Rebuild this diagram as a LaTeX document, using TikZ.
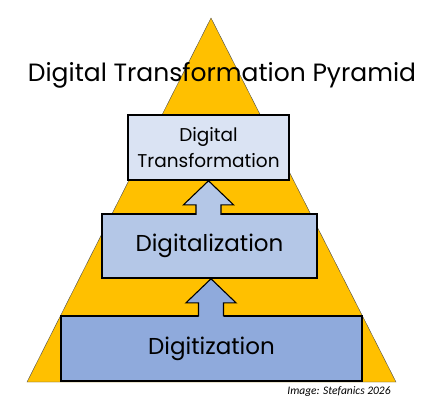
\documentclass[tikz,border=0pt]{standalone}
\usepackage{fontspec}
\setmainfont{Poppins}
\newfontfamily\creditfont{Carlito}
\usepackage{tikz}
\usetikzlibrary{calc}
\definecolor{pyryellow}{HTML}{FFC000}
\definecolor{levelone}{HTML}{8FAADC}
\definecolor{leveltwo}{HTML}{B4C7E7}
\definecolor{levelthree}{HTML}{DAE3F3}
\def\arrowhead{25}
\def\arrowshaft{12.5}
\def\arrowneck{24}
\tikzset{
  level/.style={draw=black, line width=1.6pt, align=center, inner sep=0pt, font=\fontsize{23}{26}\selectfont},
  blockarrow/.style={draw=black, line width=1.1pt, line join=miter}
}

\begin{document}
\begin{tikzpicture}[x=1pt,y=-1pt]
\useasboundingbox (0,0) rectangle (442,402);

% PYRAMID
\coordinate (apex) at (211,18);
\coordinate (baseleft) at (27,382);
\coordinate (baseright) at (396,382);
\draw[fill=pyryellow, draw=black!70, thin] (apex) -- (baseright) -- (baseleft) -- cycle;

% TITLE
\node[font=\fontsize{25}{28}\selectfont] (title) at (222,75) {Digital Transformation Pyramid};

% LEVELS
\node[level, fill=levelone, minimum width=301pt, minimum height=65pt] (digitization) at (211.5,348.5) {Digitization};
\node[level, fill=leveltwo, minimum width=215pt, minimum height=64pt] (digitalization) at (209.5,246) {Digitalization};
\node[level, fill=levelthree, minimum width=161pt, minimum height=65pt, font=\fontsize{18.5}{26}\selectfont] (transformation) at (208.5,147.5) {Digital\\Transformation};

% ARROW digitalization -> transformation
\coordinate (uptip) at (transformation.south);
\fill[leveltwo] ($(uptip)+(-\arrowshaft,40)$) -- ($(uptip)+(-\arrowshaft,\arrowneck)$) -- ($(uptip)+(-\arrowhead,\arrowneck)$) -- (uptip)
  -- ($(uptip)+(\arrowhead,\arrowneck)$) -- ($(uptip)+(\arrowshaft,\arrowneck)$) -- ($(uptip)+(\arrowshaft,40)$) -- cycle;
\draw[blockarrow] ($(uptip)+(-\arrowshaft,34)$) -- ($(uptip)+(-\arrowshaft,\arrowneck)$) -- ($(uptip)+(-\arrowhead,\arrowneck)$) -- (uptip)
  -- ($(uptip)+(\arrowhead,\arrowneck)$) -- ($(uptip)+(\arrowshaft,\arrowneck)$) -- ($(uptip)+(\arrowshaft,34)$);

% ARROW digitization -> digitalization
\coordinate (lowtip) at ($(digitalization.south)+(1.5,0)$);
\fill[levelone] ($(lowtip)+(-\arrowshaft,40)$) -- ($(lowtip)+(-\arrowshaft,\arrowneck)$) -- ($(lowtip)+(-\arrowhead,\arrowneck)$) -- (lowtip)
  -- ($(lowtip)+(\arrowhead,\arrowneck)$) -- ($(lowtip)+(\arrowshaft,\arrowneck)$) -- ($(lowtip)+(\arrowshaft,40)$) -- cycle;
\draw[blockarrow] ($(lowtip)+(-\arrowshaft,37.5)$) -- ($(lowtip)+(-\arrowshaft,\arrowneck)$) -- ($(lowtip)+(-\arrowhead,\arrowneck)$) -- (lowtip)
  -- ($(lowtip)+(\arrowhead,\arrowneck)$) -- ($(lowtip)+(\arrowshaft,\arrowneck)$) -- ($(lowtip)+(\arrowshaft,37.5)$);

% CREDIT
\node[font=\creditfont\itshape\fontsize{11.5}{12}\selectfont] (credit) at (339,392) {Image: Stefanics 2026};
\end{tikzpicture}
\end{document}
